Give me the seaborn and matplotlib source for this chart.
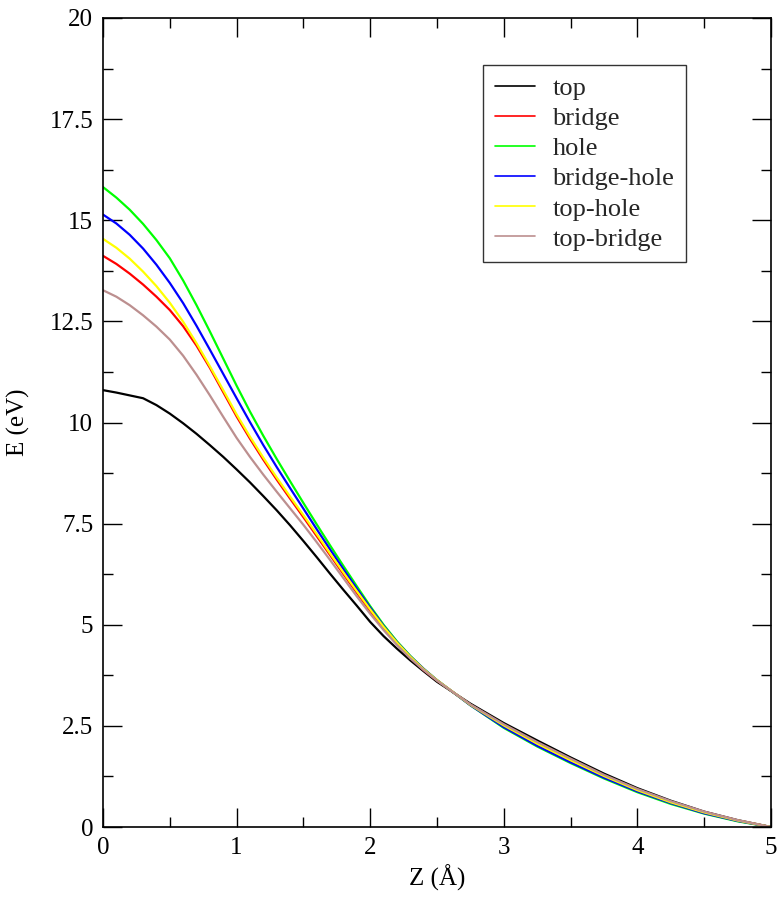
import numpy as np
import pandas as pd
import seaborn as sns
import matplotlib
matplotlib.use("Agg")
import matplotlib.pyplot as plt
from matplotlib.ticker import MultipleLocator

# ---- data ----
z = [0.0, 0.1, 0.2, 0.3, 0.4, 0.5, 0.6, 0.7, 0.8, 0.9,
     1.0, 1.1, 1.2, 1.3, 1.4, 1.5, 1.6, 1.7, 1.8, 1.9,
     2.0, 2.1, 2.2, 2.3, 2.4, 2.5,
     2.75, 3.0, 3.25, 3.5, 3.75, 4.0, 4.25, 4.5, 4.75, 5.0]

top = [10.80, 10.74, 10.67, 10.60, 10.43, 10.22, 9.98, 9.72, 9.44, 9.15,
       8.84, 8.52, 8.18, 7.83, 7.46, 7.07, 6.67, 6.26, 5.86, 5.47,
       5.07, 4.72, 4.41, 4.12, 3.85, 3.59,
       3.05, 2.57, 2.14, 1.72, 1.32, 0.96, 0.65, 0.38, 0.17, 0.0]
bridge = [14.12, 13.92, 13.68, 13.41, 13.11, 12.78, 12.38, 11.90, 11.35, 10.75,
          10.15, 9.60, 9.08, 8.59, 8.12, 7.66, 7.19, 6.72, 6.25, 5.79,
          5.34, 4.92, 4.53, 4.19, 3.88, 3.62,
          3.02, 2.52, 2.07, 1.66, 1.27, 0.92, 0.62, 0.37, 0.16, 0.0]
hole = [15.82, 15.56, 15.26, 14.91, 14.51, 14.06, 13.51, 12.90, 12.25, 11.58,
        10.91, 10.27, 9.67, 9.10, 8.55, 8.01, 7.48, 6.96, 6.45, 5.95,
        5.46, 5.00, 4.59, 4.23, 3.91, 3.63,
        3.01, 2.45, 1.99, 1.58, 1.20, 0.86, 0.57, 0.33, 0.14, 0.0]
bridge_hole = [15.14, 14.92, 14.64, 14.30, 13.90, 13.45, 12.95, 12.39, 11.80, 11.20,
               10.60, 10.01, 9.44, 8.90, 8.38, 7.87, 7.36, 6.86, 6.37, 5.89,
               5.42, 4.97, 4.57, 4.22, 3.91, 3.63,
               3.01, 2.47, 2.01, 1.60, 1.22, 0.88, 0.59, 0.34, 0.15, 0.0]
top_hole = [14.54, 14.32, 14.05, 13.73, 13.37, 12.96, 12.49, 11.96, 11.39, 10.80,
            10.20, 9.65, 9.13, 8.64, 8.17, 7.71, 7.24, 6.76, 6.29, 5.83,
            5.38, 4.95, 4.56, 4.21, 3.90, 3.63,
            3.02, 2.51, 2.06, 1.65, 1.26, 0.91, 0.61, 0.36, 0.16, 0.0]
top_bridge = [13.27, 13.11, 12.90, 12.65, 12.37, 12.05, 11.65, 11.18, 10.67, 10.14,
              9.62, 9.15, 8.71, 8.29, 7.88, 7.47, 7.04, 6.60, 6.15, 5.70,
              5.27, 4.87, 4.50, 4.17, 3.88, 3.62,
              3.03, 2.54, 2.10, 1.69, 1.29, 0.94, 0.64, 0.38, 0.17, 0.0]

labels = ["top", "bridge", "hole", "bridge-hole", "top-hole", "top-bridge"]
series = [top, bridge, hole, bridge_hole, top_hole, top_bridge]
colors = ["#000000", "#ff0000", "#00ff00", "#0000ff", "#ffff00", "#bc8f8f"]

rows = []
for lab, vals in zip(labels, series):
    for zz, e in zip(z, vals):
        rows.append({"Z": zz, "E": e, "site": lab})
df = pd.DataFrame(rows)

sns.set_theme(style="ticks")
plt.rcParams["font.family"] = ["Liberation Serif", "DejaVu Serif"]

fig = plt.figure(figsize=(7.78, 8.99), dpi=100)
ax = fig.add_axes([103 / 778, 1 - 827 / 899, (771 - 103) / 778, (827 - 18) / 899])

sns.lineplot(data=df, x="Z", y="E", hue="site", hue_order=labels,
             palette=colors, linewidth=1.6, ax=ax, sort=False, legend=True)

ax.set_xlim(0, 5)
ax.set_ylim(0, 20)
ax.xaxis.set_major_locator(MultipleLocator(1))
ax.xaxis.set_minor_locator(MultipleLocator(0.5))
ax.yaxis.set_minor_locator(MultipleLocator(1.25))
ax.set_yticks([0, 2.5, 5, 7.5, 10, 12.5, 15, 17.5, 20])
ax.set_yticklabels(["0", "2.5", "5", "7.5", "10", "12.5", "15", "17.5", "20"])

ax.tick_params(which="both", direction="in", top=True, right=True,
               color="black", width=1.0, labelsize=18, labelcolor="black")
ax.tick_params(which="major", length=14, pad=7)
ax.tick_params(which="minor", length=7)

for sp in ax.spines.values():
    sp.set_color("black")
    sp.set_linewidth(1.2)

ax.set_xlabel("Z (Å)", fontsize=18, labelpad=4, color="black")
ax.set_ylabel("E (eV)", fontsize=18, labelpad=14, color="black")

leg = ax.legend(loc="upper left", bbox_to_anchor=(0.569, 0.942),
                frameon=True, fancybox=False, fontsize=19,
                handlelength=1.5, handletextpad=0.68, labelspacing=0.25,
                borderpad=0.45, borderaxespad=0.0)
leg.get_frame().set_edgecolor("black")
leg.get_frame().set_linewidth(1.0)
for h in leg.get_lines():
    h.set_linewidth(1.2)

fig.savefig("out.png", dpi=100, facecolor="white")
